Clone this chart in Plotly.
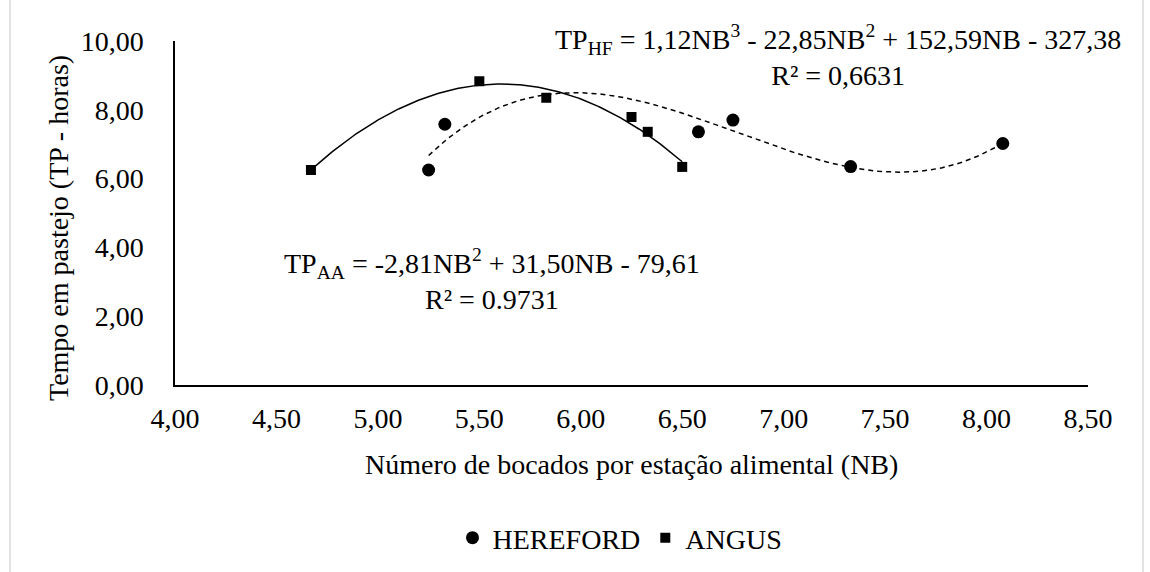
import numpy as np
import plotly.graph_objects as go

# Número de bocados por estação alimental (NB) e tempo em pastejo (TP, horas)
hereford_nb = [5.25, 5.33, 6.58, 6.75, 7.33, 8.08]
hereford_tp = [6.25, 7.58, 7.36, 7.70, 6.35, 7.02]

angus_nb = [4.67, 5.50, 5.83, 6.25, 6.33, 6.50]
angus_tp = [6.25, 8.83, 8.35, 7.79, 7.36, 6.34]

x_ticks = [4.0, 4.5, 5.0, 5.5, 6.0, 6.5, 7.0, 7.5, 8.0, 8.5]
y_ticks = [0, 2, 4, 6, 8, 10]

eq_hf = "TP<sub>HF</sub> = 1,12NB<sup>3</sup> - 22,85NB<sup>2</sup> + 152,59NB - 327,38<br>R² = 0,6631"
eq_aa = "TP<sub>AA</sub> = -2,81NB<sup>2</sup> + 31,50NB - 79,61<br>R² = 0.9731"

FONT = "Liberation Serif"
FS = 28
TXT = dict(family=FONT, size=FS, color="black")

# Plot-area geometry (pixels) used to place annotations
W, H = 1150, 572
L, R, T, B = 175, 62, 41, 187
PW, PH = W - L - R, H - T - B


def px(x):
    return (x - L) / PW


def py(y):
    return (H - B - y) / PH


def trend(xs, ys, deg):
    coef = np.polyfit(xs, ys, deg)
    xx = np.linspace(min(xs), max(xs), 200)
    return xx, np.polyval(coef, xx)


hf_x, hf_y = trend(hereford_nb, hereford_tp, 3)
aa_x, aa_y = trend(angus_nb, angus_tp, 2)

fig = go.Figure()

fig.add_trace(go.Scatter(x=hf_x, y=hf_y, mode="lines", showlegend=False,
                         line=dict(color="black", width=1.5, dash="5px,4px"),
                         hoverinfo="skip"))
fig.add_trace(go.Scatter(x=aa_x, y=aa_y, mode="lines", showlegend=False,
                         line=dict(color="black", width=1.5),
                         hoverinfo="skip"))

fig.add_trace(go.Scatter(x=hereford_nb, y=hereford_tp, mode="markers", name="HEREFORD",
                         marker=dict(symbol="circle", size=13, color="black")))
fig.add_trace(go.Scatter(x=angus_nb, y=angus_tp, mode="markers", name="ANGUS",
                         marker=dict(symbol="square", size=10, color="black")))

fig.update_layout(
    width=W, height=H,
    margin=dict(l=L, r=R, t=T, b=B, autoexpand=False),
    paper_bgcolor="white", plot_bgcolor="white",
    separators=",.",
    font=TXT,
    showlegend=True,
    legend=dict(orientation="h", x=px(620), y=py(538), xanchor="center", yanchor="middle",
                font=TXT, itemsizing="trace", itemwidth=30, tracegroupgap=0,
                bgcolor="rgba(0,0,0,0)"),
    xaxis=dict(range=[4, 8.5], tickvals=x_ticks, tickformat=".2f",
               showgrid=False, zeroline=False, showline=True,
               linecolor="black", linewidth=1.5, ticks="",
               tickfont=TXT, ticklabelstandoff=8, fixedrange=True),
    yaxis=dict(range=[0, 10], tickvals=y_ticks, tickformat=".2f",
               showgrid=False, zeroline=False, showline=True,
               linecolor="black", linewidth=1.5, ticks="",
               tickfont=TXT, ticklabelstandoff=24, fixedrange=True),
    annotations=[
        dict(text="Número de bocados por estação alimental (NB)", xref="paper", yref="paper",
             x=px(631), y=py(464), xanchor="center", yanchor="middle", showarrow=False,
             font=TXT),
        dict(text="Tempo em pastejo (TP - horas)", xref="paper", yref="paper",
             x=px(58), y=py(228), xanchor="center", yanchor="middle", showarrow=False,
             textangle=-90, font=TXT),
        dict(text=eq_hf, xref="paper", yref="paper", x=px(838), y=py(56),
             xanchor="center", yanchor="middle", align="center", showarrow=False,
             font=TXT),
        dict(text=eq_aa, xref="paper", yref="paper", x=px(492), y=py(279),
             xanchor="center", yanchor="middle", align="center", showarrow=False,
             font=TXT),
    ],
    shapes=[
        dict(type="rect", xref="paper", yref="paper",
             x0=px(10), x1=px(1143), y0=py(600), y1=py(-30),
             line=dict(color="#d9d9d9", width=1.5), fillcolor="rgba(0,0,0,0)", layer="below"),
    ],
)

fig.write_html("out.html")
